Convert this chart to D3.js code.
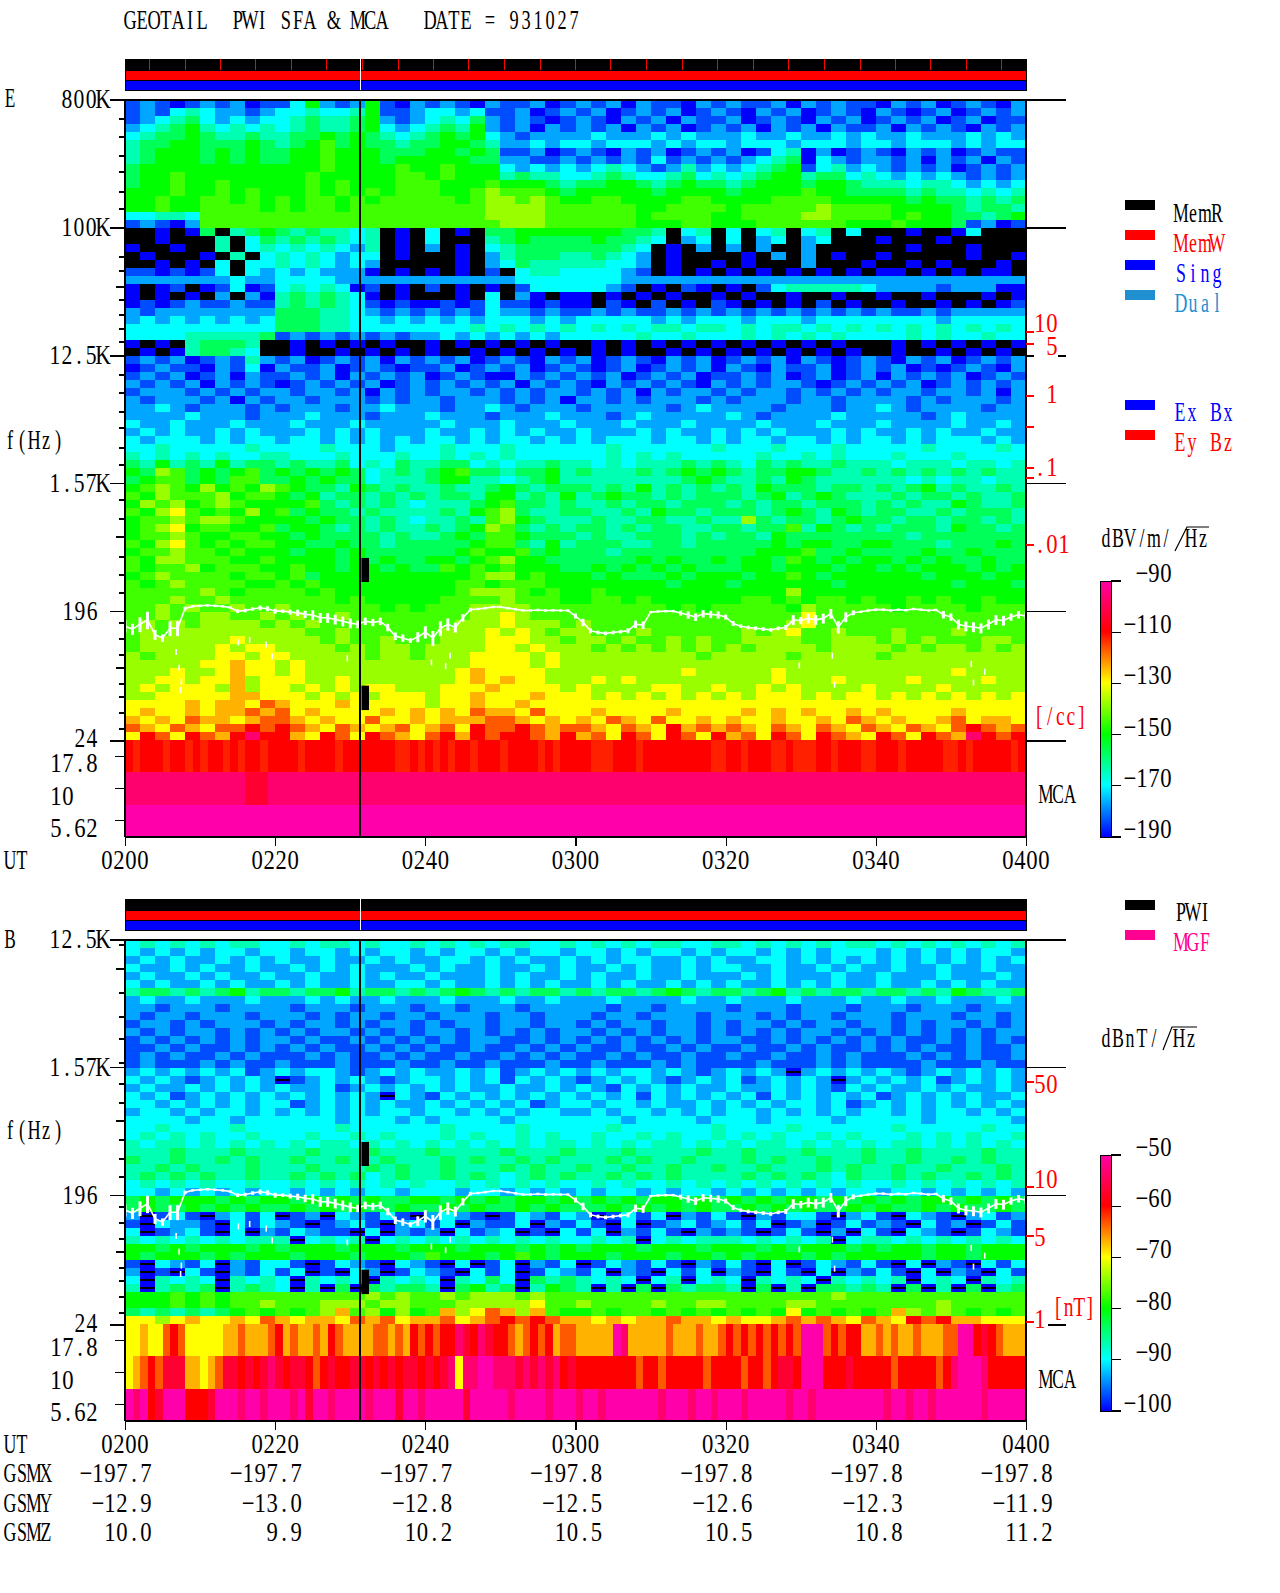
<!DOCTYPE html>
<html><head><meta charset="utf-8">
<script src="https://cdnjs.cloudflare.com/ajax/libs/d3/7.8.5/d3.min.js"></script>
<style>html,body{margin:0;padding:0;background:#fff}svg{display:block}text{font-family:"Liberation Serif",serif;white-space:pre}</style>
</head><body><svg id="c" width="1280" height="1593"></svg>
<script>
// ---------- values ----------
const title = "GEOTAIL  PWI SFA & MCA   DATE = 931027";
const timeLabels = ["0200","0220","0240","0300","0320","0340","0400"];
const timeMinutes = [0,20,40,60,80,100,120];
const gsmx = ["−197.7","−197.7","−197.7","−197.8","−197.8","−197.8","−197.8"];
const gsmy = ["−12.9","−13.0","−12.8","−12.5","−12.6","−12.3","−11.9"];
const gsmz = ["10.0","9.9","10.2","10.5","10.5","10.8","11.2"];
const memTickMinutes = [3.3,8,12.7,17.4,22.2,26.9,31.6,36.4,41.1,45.8,50.6,55.3,60,64.7,69.5,74.2,78.9,83.7,88.4,93.1,97.9,102.6,107.3,112.1,116.8];
const charOrder = ".0123456789abcmden";
// dB of each grid character, same order as charOrder
const eLevels = [null,-190,-184,-177,-170,-164,-157,-150,-145,-138,-130,-124,-117,-110,-104,-97,-90,-112.5];
const bLevels = [null,-100,-97,-93.5,-90,-87,-83.5,-80,-77.5,-74,-70,-67,-63.5,-60,-57,-53.5,-50,-61];
const eDomain = [-190,-170,-150,-130,-110,-90];
const bDomain = [-100,-90,-80,-70,-60,-50];
const paletteStops = ["#0000ff","#00ffff","#00ff00","#ffff00","#ff0000","#ff00aa"];

// E spectrogram, 60 two-minute columns, rows 1/16 of a frequency step from 800 kHz
const eRows = [
"1210121201 1362126102 1210211201 2120211021 2112021211 0212012102",
"1213432212 3343346112 3323112012 1201212012 1021201210 2101201212",
"1234532323 3454456212 3435212101 2102120211 2012102120 1212012011",
"2345643434 3454456323 4546212021 2120212012 1202120211 2021210212",
"3455654454 4556565434 5656321222 2322232322 2322322323 2232223232",
"4556655565 4567565545 5665422323 3233323233 2333233323 3233323233",
"4566656565 5667666555 6656511201 2102120121 2013402012 1021201211",
"4566656565 5667666566 6665522112 1212131212 1234503212 2120212021",
"5666666666 6667666676 6766632323 2343212423 2345613423 2121201212",
"5667666666 6676666677 6766645443 3454334534 3456645534 3232321212",
"5667667666 6676766677 7666766654 5566545655 4566656654 4434432323",
"6667667676 6676767677 7667877765 6666656666 5666676655 5545443434",
"6676677676 7677676777 7767887876 6776666776 6667777666 6656554545",
"6676677776 7677677777 7777888877 7777667777 6777778777 7666654554",
"3344377777 7777777777 7777888877 7777677776 6777788777 7676655456",
"1210277777 7777777777 7777788877 7777666776 6677777766 6766651201",
"..0.05.456 5454434.0. 3.0.556666 666554.34. 3.34.34.3. ..0..03...",
"..0...4.35 4545434.0. 3...456555 565543.23. 3.23.23... 0...0.....",
"0..0..4.34 3434324.0. 2.0.345555 55543.0.2. 2.2..2.... ..0...0...",
".0...0.4.3 4343233.0. ..0.245554 45432.0... .0.2.2.0.. 0.....0..0",
"..0.0.3.33 4343232... ..0.235444 44332.0..0 .0...2...0 ..0.0...0.",
"1101013.32 3232220.0. 0.0.1.3443 33321.0.0. 0.0.0.0.0. 00.0.0.00.",
"2222222322 3333222222 2222223333 3332222222 2222222222 2222222222",
"0.01.01301 3434301.0. 1.0.0.1333 3321.0.10. 0.13444443 2222122200",
"0.0.0.2.20 4545430.0. ..0.3.20.0 0.0.0.0..0 .0..0..0.. 0..0...0.0",
"0101211211 4545431010 0101311010 0.10.1.0.1 0.0.0.1.0. .0..0.0.01",
"2122222222 5554432121 2121322121 1212112121 2121212121 2112122222",
"2323232323 5554433232 3232333232 3333323233 3233323333 3333233333",
"3333333333 5554433333 3334343434 3434344344 3434434343 4343434343",
"3333444445 1212121212 2323232323 3333433433 3434343433 3343433433",
"0.0.45554. .0.0.0.0.. 0.0.0.0.0. .0.0.0.0.0 .0.0.0.0.. .0.0.0.0.0",
".0.045543. .0..0.0.0. 0..0.0.0.0 .0.0..0.0. 0.0.0.0.0. .0..0.0.0.",
"1212012142 1201212021 2120121021 2012102120 1212021012 1021201212",
"0121102130 2112012101 1201212012 1012012120 2102112012 1201012102",
"1212012021 1212021212 0121002121 2120121201 1212012012 0212120121",
"2121202121 0121212012 1212120212 1021212102 1212210121 2120121212",
"1222121212 2122120212 1221212122 1212021221 2122121212 1221221202",
"2122212021 2212221212 2122212120 2212122212 1222122122 2212122212",
"2232122212 1222122322 2122321222 1222221232 2221222122 3212222122",
"2222322212 2232221222 3222122232 2212322222 3212222322 2221232222",
"3223222322 2322232222 2322232223 2223222322 2232223222 3222232232",
"2323223232 2232323222 3223232322 3222323223 2323222323 2232322322",
"3233323233 2332323232 3323233232 3233323323 2332332323 3232333232",
"3343333343 3334333233 3433343333 3343333334 3334333433 3334333343",
"4343434334 4333433343 3434343333 3343434333 3343343433 3433343333",
"5464546455 4544534354 4553434454 4343444545 4354544544 4344434434",
"6587565675 6565653454 5675545564 5444545656 5455665445 4545454544",
"5677565775 5656553444 5664434564 4444444565 4454654444 4434344344",
"6787686768 7655465454 4544565455 5454645454 5465554554 5456454454",
"7687778677 6564554545 4554664546 4565545455 5456456544 4545545445",
"6878678766 6675454543 4445675545 4454554555 4545545554 5454465445",
"7689767686 7565545444 4546785445 5445465545 5545654654 5544545554",
"6778788766 6656554543 4454786544 4544554454 4854554565 5455455454",
"6789677667 5665454544 5456875454 5545455445 5455746545 4555465545",
"6778766776 6565555454 4565776555 4544555454 5546555555 5545555555",
"7689767677 6655655455 5556775464 5554455455 5556566556 6555455565",
"6778776766 6566565555 5567667565 5545555555 5566675565 5556556555",
"7688777667 6666565655 6656786655 5555656556 5665765656 6565655655",
"7677867776 6766566565 5767676665 5656565655 5665666566 5656665656",
"6787777677 6756666666 6667886766 6565556566 6566765666 6665666566",
"7678777766 7676666666 6677677766 6666665666 5666666566 6666656665",
"7777787677 7767666666 6678887676 6766666666 6666866666 6666666666",
"7778778777 7777676666 6777787776 6776766666 6776767767 6676766766",
"7787877877 8777777676 7778888777 7777776767 7777687777 7677776777",
"7787788778 7877877777 7778898777 7777777777 7777797777 7777777777",
"7878788887 8787777777 7788898887 8777777777 7777897777 7777777777",
"7878888888 8877877777 7888989878 8777877777 7878977877 7877787777",
"7888888988 8887877877 7888999887 8878778787 7888877888 7878777887",
"7888889899 8888787887 8888998988 8787878787 8788887888 8787887878",
"8788889989 9888887887 8889999898 8888888878 8888788888 7888888888",
"8888899a99 8988888888 8889999898 8888888888 8888888888 8888888888",
"8889889a99 8988888888 889a999988 8888888988 8889888888 8888898888",
"8899899a89 9988988888 889a9a9988 8989888888 8889888988 8898888988",
"8989998a89 9898989988 8999a99998 9888899889 8898988889 8888988888",
"8899999aa9 9989898999 899a999a99 9898989898 9899989899 8989898989",
"9999a9aa9b a999a99999 899a99a999 9999999999 9999999999 9999999999",
"9a99a9aaba b9a9999a9a 9a9baa9b99 9a9999a999 9a9a9a99a9 a9999a9999",
"a9a9baa9ab ba9a99b99a 9aaabba9a9 a9ba9b99a9 a99a99a9ba 9a99ab9aa9",
"ba9ba9bbcb cba9ba9ab9 ab9cbbcbab ba9ba9caba ba9ba9ba9b a9ba9bcbab",
"9cb9cbacdc ca9cb9cba9 bcacbccbac ab9cb9cb9c ab9cb9cba9 cb9cbadcbc"];

// B spectrogram, same columns, rows from 12.5 kHz ('.' is a thin black dash)
const bRows = [
"3434343443 3434434334 3434344334 3434344334 4343434344 3434343434",
"3232323323 3233232332 3233232332 3323233232 3323232333 2323232332",
"2323223232 3223223232 2332323223 2323322323 2233232323 2323232323",
"3223232232 2323232223 2322322323 2232322323 3223223232 2322322322",
"2322323223 2232232322 3222323223 2322322322 2323222322 3222322232",
"3232232322 3232232233 2322323232 2323223232 3223232322 3223232322",
"4554545645 5455645545 4565454554 5455456545 5456454554 5545465445",
"2322322232 2232322322 2322232232 2232222322 3222322232 2322322232",
"2212221222 2122212221 2212221222 2212212222 1222122212 2212221222",
"2122122212 2212122122 1222122122 2122122212 2212122122 2122212212",
"1221212221 2122121221 2122122122 1212212212 1221212212 2121221212",
"2121221212 1212212121 2212121212 2121212212 1212122121 2121212122",
"1212121212 2121121212 1212211212 1212121212 2112121212 1211212121",
"1121211212 1212112121 2112112121 2112112121 1211212112 1212112112",
"1212112121 1121211212 1121121212 1121211211 2112112121 1121212112",
"1211121211 2111211121 1211211121 1211121211 1121112121 1112111211",
"2323232312 3233212323 2232312323 2323323212 3232.23232 3212323232",
"3232123232 .123232123 3232313232 1232321232 3123232.23 2323123232",
"2322323232 3223123232 3232232232 3213232322 3223232132 3223232232",
"3231232323 2323232.32 1323232323 2323132323 2313232323 1232323223",
"3323232323 3123232322 3232323123 3233232232 3232332312 3232323232",
"2332323323 2323232332 3323232332 2323323232 3323232323 3232332323",
"3333233233 3333233323 2333323333 3332333323 3323333233 3332333332",
"3343333433 3333433333 3433334333 3343333334 3333433333 3433333433",
"3434343343 3343343433 3434334343 3433434334 3434334343 3343434334",
"4344343434 3434434343 4343434344 3434344343 4344343434 3443434343",
"4445444544 4454445444 5444454445 4445444454 4544454445 4454444544",
"5445445454 4544544544 4545445454 4454544544 4545445445 4454454544",
"4454544454 4454445454 4544454544 5445445445 4454445454 4544544454",
"4545454454 4545453454 4545434545 4454545444 4545454354 4545445454",
"3434343343 3434343434 3343434343 3434334343 4343434343 3434343434",
"3323232323 3232323323 3323323232 3233232332 3232323233 2332323232",
"5656665656 6565656556 6565656656 5656566565 6565665656 5656656565",
"5655656565 5656565565 5656556565 5565656565 5656565565 6556565565",
"2.131.2313 .12.32131. 2321.13213 2.1313.213 1.21331.23 1.321.2312",
"1.3221.313 21.1231.23 13.2113.21 31.3.12312 313.12.131 21.312.131",
"3.1231.3.2 13211.3.21 2.3123.1.3 13.2131.21 21.131.2.3 1.321.1321",
"4343434344 4.3434.343 4343434343 3434.34344 4343434.34 4343434343",
"6656566656 5666566656 6656665656 5666566656 6656566656 5665665666",
"6566656566 6566656665 7666567656 6656665665 6566656566 6665665666",
"1.3213.213 31.1321.32 1.3.13.213 .132131.21 31.3.13213 1.3.21.313",
"2.1.31.213 13.1.32.13 21.313.132 13.21.313. 21.31.3.21 31.3.21.31",
"3.4343.434 3.4343.434 3.4353.545 4343.34.34 3.4343.434 34.343.434",
"4.4545.454 3.4.5.5455 4.5645.465 4.4.5.5455 4.5.4.5545 4.5.4.5.45",
"6667676777 7777778787 7878887877 7777777777 7777777877 7777777777",
"6667676778 7778887887 7788888977 8777787788 7777887777 7777877777",
"5454545676 7678a78686 7a89ba8a76 6767767676 7676967676 7a87876767",
"9989a99a9b a9aa9bab9a ab9abcbcba a9a9aabaa9 a99ababa9b a9cbcaa999"];

const eMca = [
"cncccnccnc nccncnccnc cccnccccnc ccccccnncn cncnccnccc nccccncncc ccnnncccnc ccccccccnn ccncccnncn nnccncccnn cccncccccn ncncccccnc",
"dddddddddd ddddddmmmd dddddddddd dddddddddd dddddddddd dddddddddd dddddddddd dddddddddd dddddddddd dddddddddd dddddddddd dddddddddd",
"eeeeeeeeee eeeeeeeeee eeeeeeeeee eeeeeeeeee eeeeeeeeee eeeeeeeeee eeeeeeeeee eeeeeeeeee eeeeeeeeee eeeeeeeeee eeeeeeeeee eeeeeeeeee"];
const bMca = [
"99a99bcb99 999aabaaab cabaabacba aaabbabacb cbccdmcdmc cbabcbcabb aaaaaedaaa aabaaabaab cbcbcbcbcb eeebcbccaa babaabaaab beecmcbaaa",
"9abcbmmmaa 9abmmcmcmd mcmmcbcmcc mmcmcmcmmc mcmd9ddeed ddmdmdmdcm ccccccccbc cbcccccbcc ccbccbcmmc eeecccmccc ccbcccccbc deeedccccc",
"edecmeeecc cmeeedeede eedemeedee eedeeemeed eeeeemeeee edeeeedeee deedeeeeee edeeedeede eedeeeeede edeeeeeeee edeedeedee eeeedeeeee"];

// Line traced in both panels: one frequency in Hz per minute from 0200
const fceHz = [155,148,160,172,135,128,150,150,207,214,
216,218,216,214,210,198,200,205,209,206,
198,198,195,193,188,186,178,178,173,168,
163,160,168,165,168,152,132,128,123,130,
141,128,150,160,152,178,203,205,208,212,
212,208,204,200,200,202,200,201,200,200,
183,165,144,140,138,140,142,144,160,158,
195,197,198,198,192,186,180,190,188,186,
180,162,155,152,150,148,146,150,152,172,
170,176,172,176,190,153,180,193,196,200,
203,203,200,203,201,205,203,200,202,187,
180,160,155,153,150,160,172,170,180,187,183];
// scatter of that line around each minute, percent of the frequency
const fceSpreadPct = [10,9,12,14,8,6,12,12,3,2,
2,2,2,2,2,3,3,3,4,4,
4,3,4,5,6,8,8,8,8,8,
8,6,6,6,6,6,6,6,4,8,
10,12,12,10,8,6,3,2,2,2,
2,2,2,2,2,2,2,2,2,2,
4,6,4,3,3,3,3,4,6,6,
2,2,2,2,4,6,6,6,6,6,
4,4,3,3,3,3,3,3,4,8,
6,8,8,8,8,10,8,4,2,2,
2,2,2,2,2,2,2,2,2,6,
6,8,8,8,8,8,8,8,6,6,6];
const strayMinutes = [7.1,7.4,7.3,6.7,15,16.5,18.7,19.5,42.6,43.2,40.7,29.5,94.1,94.4,112.6,112.9,114.4,89.7];
const strayHz = [79,63,55,102,119,124,115,95,81,96,86,92,96,60,84,62,74,82];

const gapMinute = [31.5,32.5];
const gapBandsHz = [[470,318],[59,39.7]];
const eFreqTicks = [800000,100000,12500,1570,196,24];
const eFreqLabels = ["800K","100K","12.5K","1.57K","196","24"];
const bFreqTicks = [12500,1570,196,24];
const bFreqLabels = ["12.5K","1.57K","196","24"];
const mcaLabels = ["17.8","10","5.62"];
const densityTicks = [10,5,1,.5,.1,.05,.01];
const densityLabels = ["10","5","1","",".1","",".01"];
const magTicks = [50,10,5,1];
const magLabels = ["50","10","5","1"];
const eBarTicks = [-190,-170,-150,-130,-110,-90];
const bBarTicks = [-100,-90,-80,-70,-60,-50];

// ---------- helpers ----------
const svg = d3.select("#c");
const W = {l:125,r:1026};
const x = d3.scaleLinear().domain([0,120]).range([W.l,W.r]);
const yE = d3.scaleLog().base(8).domain([800000,800000/32768]).range([100,740]);
const yB = d3.scaleLog().base(8).domain([12500,12500/512]).range([940,1324]);
const colorE = d3.scaleLinear().domain(eDomain).range(paletteStops).clamp(true);
const colorB = d3.scaleLinear().domain(bDomain).range(paletteStops).clamp(true);
const ctx = document.createElement("canvas").getContext("2d");
const FS = 27;
ctx.font = FS+'px "Liberation Serif"';
function mono(str,px,base,o={}){
  const cell=o.cell||12;
  const letters=(str.match(/[A-Za-z&]/g)||[]).length;
  const sx=o.sx||(letters*2>str.length?0.64:0.84);
  const chars=Array.from(str);
  const left=o.end?px-chars.length*cell:px;
  const xs=chars.map((ch,i)=>((i*cell+(cell-ctx.measureText(ch).width*sx)/2)/sx).toFixed(1));
  return svg.append("text").attr("transform",`translate(${left},${base}) scale(${sx},1)`)
    .attr("x",xs.join(" ")).attr("y",0).attr("font-size",FS).attr("fill",o.fill||"#000").text(str);
}
function hline(x1,x2,y,c,w){svg.append("line").attr("x1",x1).attr("x2",x2).attr("y1",y).attr("y2",y)
  .attr("stroke",c||"#000").attr("stroke-width",w||1.2).attr("shape-rendering","crispEdges");}
function vline(xv,y1,y2,c,w){svg.append("line").attr("x1",xv).attr("x2",xv).attr("y1",y1).attr("y2",y2)
  .attr("stroke",c||"#000").attr("stroke-width",w||1.2).attr("shape-rendering","crispEdges");}
const parse=s=>s.replace(/ /g,"");

function grid(rows,yScale,top,levels,color,thinBlack){
  const cells=[];
  rows.map(parse).forEach((row,r)=>{
    for(let c=0;c<60;c++){
      const ch=row[Math.min(c,row.length-1)];
      cells.push({c,r,v:levels[charOrder.indexOf(ch)]});
    }
  });
  const f=r=>top*Math.pow(8,-r/16);
  const g=svg.append("g").attr("shape-rendering","crispEdges");
  g.selectAll("rect").data(cells).join("rect")
    .attr("x",d=>x(d.c*2)).attr("width",x(2)-x(0)+.5)
    .attr("y",d=>yScale(f(d.r))).attr("height",d=>yScale(f(d.r+1))-yScale(f(d.r))+.5)
    .attr("fill",d=>d.v===null?(thinBlack?color(levels[1]):"#000"):color(d.v));
  if(thinBlack) g.append("g").selectAll("rect").data(cells.filter(d=>d.v===null)).join("rect")
    .attr("x",d=>x(d.c*2)).attr("width",x(2)-x(0))
    .attr("y",d=>yScale(f(d.r))+3).attr("height",2).attr("fill","#000");
}
function mca(rows,y0,levels,color){
  const band=d3.scaleBand().domain(mcaLabels).range([y0,y0+97]);
  const cells=[];
  rows.map(parse).forEach((row,r)=>{
    for(let m=0;m<120;m++){
      const ch=row[Math.min(m,row.length-1)];
      cells.push({m,k:mcaLabels[r],v:levels[charOrder.indexOf(ch)]});
    }
  });
  svg.append("g").attr("shape-rendering","crispEdges").selectAll("rect").data(cells).join("rect")
    .attr("x",d=>x(d.m)).attr("width",x(1)-x(0)+.5).attr("y",d=>band(d.k)).attr("height",band.bandwidth()+.5)
    .attr("fill",d=>color(d.v));
  return band;
}
function fceLine(yScale){
  const line=d3.line().x((d,i)=>x(i)).y(d=>yScale(d));
  svg.append("path").attr("d",line(fceHz)).attr("fill","none").attr("stroke","#fff").attr("stroke-width",1.6);
  svg.append("g").selectAll("line").data(fceHz).join("line")
    .attr("x1",(d,i)=>x(i)).attr("x2",(d,i)=>x(i))
    .attr("y1",(d,i)=>yScale(d*(1+fceSpreadPct[i]/100))).attr("y2",(d,i)=>yScale(d*(1-fceSpreadPct[i]/100)))
    .attr("stroke","#fff").attr("stroke-width",3);
  svg.append("g").selectAll("rect").data(strayHz).join("rect")
    .attr("x",(d,i)=>x(strayMinutes[i])).attr("y",d=>yScale(d)-3).attr("width",1.6).attr("height",6).attr("fill","#fff");
}
function gaps(yScale){
  svg.append("g").selectAll("rect").data(gapBandsHz).join("rect")
    .attr("x",x(gapMinute[0])).attr("width",x(gapMinute[1])-x(gapMinute[0]))
    .attr("y",d=>yScale(d[0])).attr("height",d=>yScale(d[1])-yScale(d[0])).attr("fill","#000");
}
function statusBars(y0,heights,red){
  const cols=["#000","#ff0000","#0000ff"];let yy=y0;
  heights.forEach((h,i)=>{svg.append("rect").attr("x",W.l).attr("y",yy).attr("width",W.r-W.l).attr("height",h)
    .attr("fill",cols[i]).attr("stroke","#000").attr("stroke-width",1).attr("shape-rendering","crispEdges");yy+=h;});
  vline(x(31.3),y0,yy,"#fff",1);
  if(red) svg.append("g").selectAll("line").data(memTickMinutes).join("line")
    .attr("x1",d=>x(d)).attr("x2",d=>x(d)).attr("y1",y0).attr("y2",y0+heights[0])
    .attr("stroke","#f00").attr("stroke-width",1).attr("shape-rendering","crispEdges");
}
function timeAxis(yBottom,base){
  const ax=d3.axisBottom(x).tickValues(timeMinutes).tickSize(9).tickFormat("");
  const g=svg.append("g").attr("transform",`translate(0,${yBottom})`).call(ax);
  g.selectAll("path,line").attr("stroke","#000").attr("stroke-width",1.2).attr("shape-rendering","crispEdges");
  timeLabels.forEach((s,i)=>mono(s,x(timeMinutes[i])-24,base));
  mono("UT",4,base,{sx:.66});
}
function minorTicks(y0,offs,long){
  offs.forEach((o,i)=>hline(i===long?W.l-9:W.l-6,W.l,y0+o));
}
function colorbar(y1,y2,domain,color,ticks,baseOff){
  const s=d3.scaleLinear().domain([domain[0],domain[5]]).range([y2,y1]);
  const steps=d3.range(domain[0],domain[5],(domain[5]-domain[0])/256);
  svg.append("g").attr("shape-rendering","crispEdges").selectAll("rect").data(steps).join("rect")
    .attr("x",1100).attr("width",11.5).attr("y",d=>s(d)-1.2).attr("height",1.6).attr("fill",d=>color(d));
  svg.append("rect").attr("x",1100).attr("y",y1).attr("width",11.5).attr("height",y2-y1).attr("fill","none").attr("stroke","#000").attr("stroke-width",1).attr("shape-rendering","crispEdges");
  ticks.forEach(t=>{hline(1111,1121,s(t));mono("−"+Math.abs(t),1172,s(t)+baseOff,{end:true});});
}

// ---------- panel E ----------
mono(title,124,29,{sx:.68});
statusBars(59,[11,10,10],true);
grid(eRows,yE,800000,eLevels,colorE,false);
const eBand=mca(eMca,740,eLevels,colorE);
fceLine(yE);gaps(yE);
vline(x(31.3),100,360,"#000",2);vline(x(31.3),360,837,"#000",1.2);
vline(W.l,100,837);vline(W.r,100,837);hline(W.l,W.r,837);hline(W.l,W.r,100);
mono("E",4,107);
eFreqTicks.forEach((f,i)=>{
  const yy=yE(f);
  hline(110,W.l,yy);
  if(i!==2) hline(W.r,1066,yy); else {hline(W.r,1034,yy);hline(1058,1066,yy);}
  const lab=eFreqLabels[i];
  mono(lab,lab.endsWith("K")?109:98,i===eFreqTicks.length-1?747:yy+8,{end:true,sx:.8});
});
minorTicks(100,[19,37,56,72,92,109]);minorTicks(228,[29,43,59,72,87,101,114],2);
minorTicks(356,[19,37,56,72,92,109]);minorTicks(484,[16,35,53,73,91,109],2);minorTicks(612,[11,27,43,56,72,85,101,117],3);
mcaLabels.forEach(l=>{
  const yy=eBand(l)+eBand.bandwidth()/2;hline(115,W.l,yy);
  if(l==="10") mono(l,50,yy+16,{}); else mono(l,98,yy+16,{end:true});
});
mono("f(Hz)",4,449,{sx:.68});
timeAxis(837,869);

const dens=d3.scaleLog().domain(densityTicks).range([332,344,396,427,468,478,545]);
const densBase=[0,11,7,0,8,0,8], densX=[1034,1046,1046,0,1034,0,1034];
densityTicks.forEach((d,i)=>{hline(W.r,1034,dens(d),"#f00");
  if(densityLabels[i]) mono(densityLabels[i],densX[i],dens(d)+densBase[i],{fill:"#f00"});});
mono("[/cc]",1034,725,{fill:"#f00",cell:10.5,sx:.72});
mono("MCA",1040,803);

// legends
const leg1=[["MemR","#000",200],["MemW","#f00",230],["Sing","#00f",260],["Dual","#2090d0",290]];
leg1.forEach(l=>{svg.append("rect").attr("x",1125).attr("y",l[2]).attr("width",30).attr("height",10).attr("fill",l[1]);
  mono(l[0],1175,l[2]+22,{fill:l[1],sx:.66});});
[["Ex Bx","#00f",400],["Ey Bz","#f00",430]].forEach(l=>{svg.append("rect").attr("x",1125).attr("y",l[2]).attr("width",30).attr("height",10).attr("fill",l[1]);
  mono(l[0],1174,l[2]+21,{fill:l[1],sx:.66});});
[["PWI","#000",900],["MGF","#ff0090",930]].forEach(l=>{svg.append("rect").attr("x",1125).attr("y",l[2]).attr("width",30).attr("height",10).attr("fill",l[1]);
  mono(l[0],1175,l[2]+21,{fill:l[1],sx:.66});});
mono("dBV/m/",1100,547,{sx:.66});
mono("Hz",1185,547,{sx:.66});
svg.append("path").attr("d","M1175,551L1187,527H1209").attr("fill","none").attr("stroke","#000").attr("stroke-width",1.2);
colorbar(581,837,eDomain,colorE,eBarTicks,1);

// ---------- panel B ----------
statusBars(899,[11,10,10],false);
grid(bRows,yB,12500,bLevels,colorB,true);
const bBand=mca(bMca,1324,bLevels,colorB);
fceLine(yB);gaps(yB);
vline(x(31.3),940,1068,"#000",2);vline(x(31.3),1068,1421,"#000",1.2);
vline(W.l,940,1421);vline(W.r,940,1421);hline(W.l,W.r,1421);hline(W.l,W.r,940);
mono("B",4,948);
bFreqTicks.forEach((f,i)=>{
  const yy=yB(f);
  hline(110,W.l,yy);
  if(i<3) hline(W.r,1066,yy); else hline(1048,1066,yy);
  const lab=bFreqLabels[i];
  mono(lab,lab.endsWith("K")?109:98,i===3?1332:yy+8,{end:true,sx:.8});
});
minorTicks(940,[5,29,53,77,99,123],1);minorTicks(1068,[16,35,53,72,91,109],2);minorTicks(1196,[11,27,43,56,72,85,101,117],3);
mcaLabels.forEach(l=>{
  const yy=bBand(l)+bBand.bandwidth()/2;hline(115,W.l,yy);
  if(l==="10") mono(l,50,yy+16,{}); else mono(l,98,yy+16,{end:true});
});
mono("f(Hz)",4,1139,{sx:.68});
timeAxis(1421,1453);

[["GSMX",gsmx,1482],["GSMY",gsmy,1512],["GSMZ",gsmz,1541]].forEach(r=>{
  mono(r[0],4,r[2],{sx:.66});
  r[1].forEach((s,i)=>mono(s,x(timeMinutes[i])+27,r[2],{end:true}));
});

const mag=d3.scaleLog().domain(magTicks).range([1082,1187,1236,1322]);
const magBase=[11,1,10,6], magX=[1034,1034,1034,1034];
magTicks.forEach((d,i)=>{hline(W.r,1034,mag(d),"#f00");mono(magLabels[i],magX[i],mag(d)+magBase[i],{fill:"#f00"});});
mono("[nT]",1053,1316,{fill:"#f00",cell:10.5,sx:.72});
mono("MCA",1040,1388);
mono("dBnT/",1100,1047,{sx:.66});
mono("Hz",1173,1047,{sx:.66});
svg.append("path").attr("d","M1163,1050L1172,1027H1197").attr("fill","none").attr("stroke","#000").attr("stroke-width",1.2);
colorbar(1155,1411,bDomain,colorB,bBarTicks,1);
</script></body></html>
